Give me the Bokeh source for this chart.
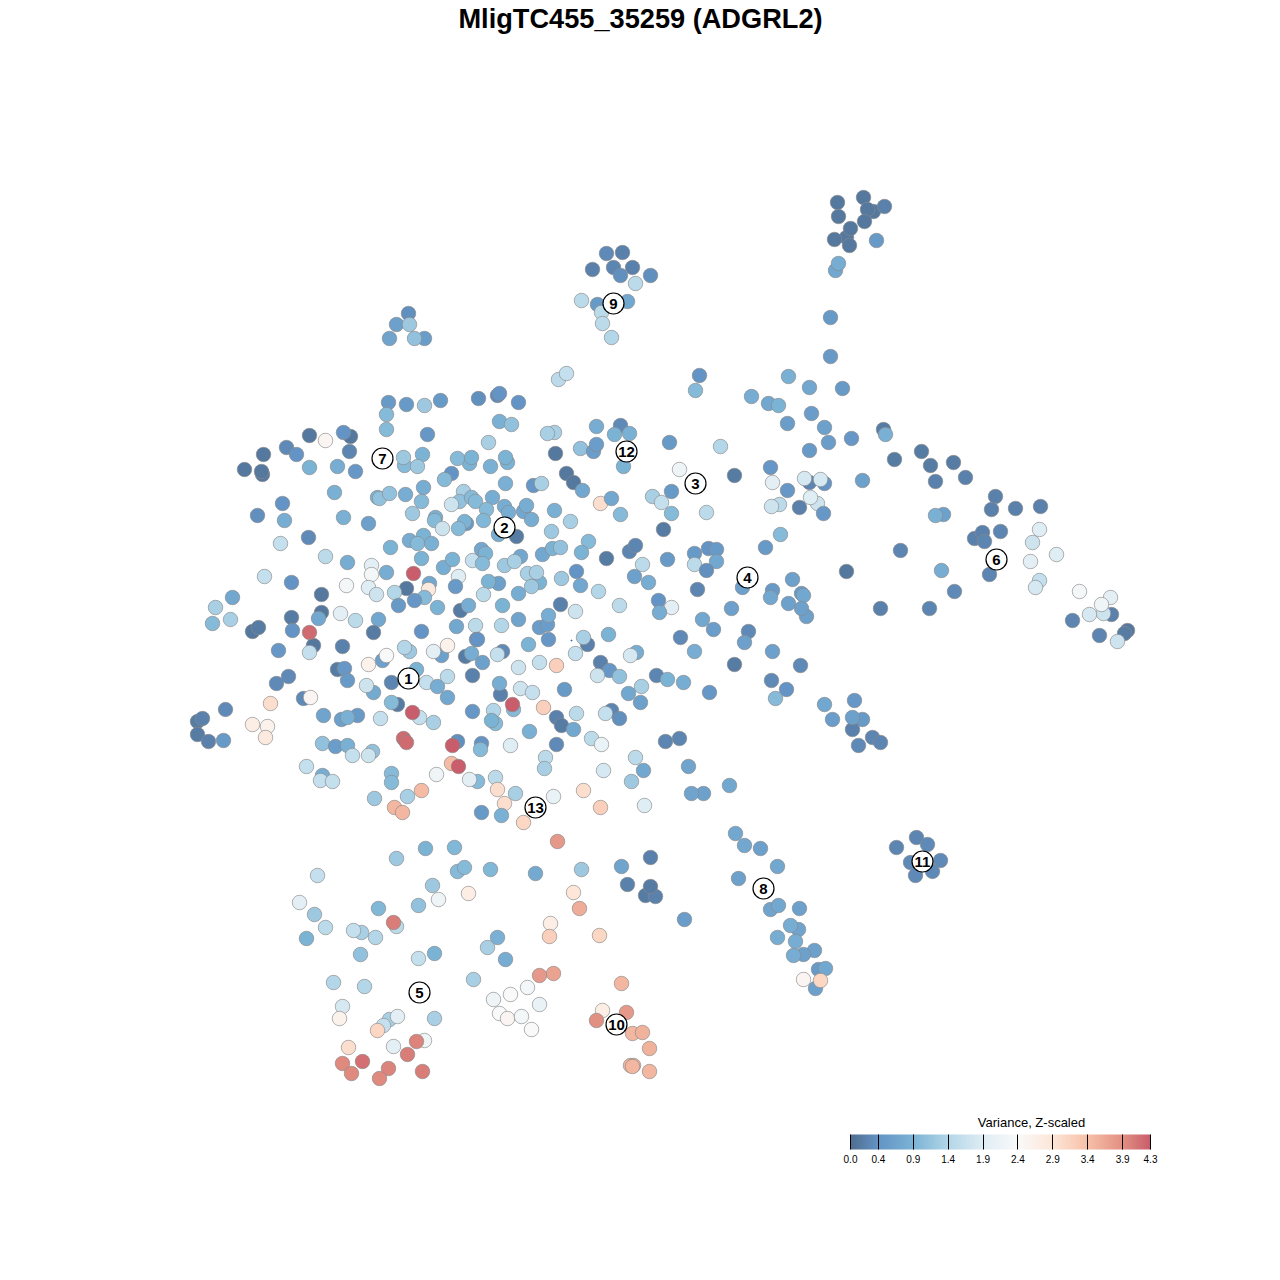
import numpy as np
from bokeh.plotting import figure
from bokeh.models import ColumnDataSource, LinearColorMapper, ColorBar, FixedTicker, Label
from bokeh.core.properties import value
from bokeh.embed import file_html
from bokeh.resources import INLINE

chart_title = "MligTC455_35259 (ADGRL2)"
legend_title = "Variance, Z-scaled"
legend_ticks = [0.0, 0.4, 0.9, 1.4, 1.9, 2.4, 2.9, 3.4, 3.9, 4.3]
rdbu = ["#053061", "#2166AC", "#4393C3", "#92C5DE", "#D1E5F0", "#F7F7F7", "#FDDBC7", "#F4A582", "#D6604D", "#B2182B"]

xa = [388,406,424,440,478,386,386,427,309,325,350,343,349,286,296,263,244,262,261,309,337,355,404,403,422,417,469,457,471,451,444]
ya = [402,404,405,400,398,414,429,434,435,440,436,432,451,447,454,454,469,474,471,467,466,471,465,457,454,466,463,458,457,473,479]
va = [.5,.5,1.2,.5,.35,1,1,.45,.1,2.5,.1,.4,.25,.3,.4,.1,.1,.1,.1,.9,.8,.45,1,1.2,.9,1.2,.9,1,.9,.4,1]

xb = [334,377,379,389,405,423,421,463,459,451,471,475,282,257,284,343,368,412,435,434,442,466,464,458,308,280,325,347,390,409,423,417,431,421,443,452,472]
yb = [492,497,498,493,494,487,501,491,501,504,497,501,503,515,520,517,523,513,517,520,528,523,521,528,537,543,556,562,547,540,535,543,543,558,567,559,560]
vb = [.85,.9,1.1,1.1,.8,.8,1,1.3,1.1,1.7,1,1,.4,.35,.8,.85,.6,1.2,.85,1,1.7,.5,.9,1,.3,1.6,1.5,.8,.9,.8,.9,1,.85,.9,.8,.9,1.6]

xc = [371,371,386,264,291,413,429,406,428,458,455,346,368,376,394,321,424,414,398,437,232,215,230,212,321,318,340,355,378,291,252,258,292,373,421,456,460,468,475,476,313,309,309,342,278,409,404,441,433,447,465,471,382,386,368,337,344,347,288,276,416,391,426,437,373,366]
yc = [565,574,572,576,582,573,583,588,589,576,586,585,587,594,592,594,597,600,605,607,597,607,619,623,612,618,613,620,619,617,631,627,630,632,631,626,610,605,625,639,645,652,632,646,650,651,647,655,651,645,656,653,660,655,664,669,668,680,676,683,669,682,682,686,692,685]
vc = [2,2.3,.8,1.6,.4,4.3,.7,.1,2.8,1.9,.5,2.3,1.9,1.7,1.4,.1,1,.45,.5,.9,.7,1.3,1.3,1,.1,.7,2,1.5,.7,.15,.1,.15,.4,.15,.4,.7,.15,.8,1.5,.4,.1,1.6,4.2,.2,.45,1.2,1.4,.6,2,2.6,.15,.8,.6,2.4,2.6,.15,.45,.5,.3,.3,.9,.25,1.6,.8,.75,1.7]

xd = [497,499,518,499,511,488,554,547,596,620,614,629,580,593,596,555,623,669,720,679,734,490,507,505,505,533,541,566,573,582,600,611,620,652,661,671,671,706,663]
yd = [395,393,402,421,424,442,432,433,426,425,434,433,448,451,444,453,466,442,446,469,475,466,462,457,483,485,483,473,482,490,503,498,514,496,502,491,513,512,529]
vd = [.3,.4,.4,.85,1.1,1.3,1.3,1.3,.8,.3,.9,.85,1.1,.55,.55,.1,.9,.5,1.4,2.2,.15,.85,.9,.9,.85,.45,1.3,.1,.1,.7,3,.7,1,1.3,1.6,.5,1,1.5,.15]

xe = [492,486,504,508,523,526,531,554,570,551,483,498,516,588,581,542,552,560,520,481,485,482,504,514,606,629,635,642,667,694,708,716,716,694,706,527,539,536,531,561,576,580,598,634,648,697,498,488,483,518,560,575,619,658,671,659,731,502]
ye = [497,509,506,512,511,505,519,510,521,531,520,534,536,541,552,554,548,547,556,549,553,563,565,561,558,551,545,564,559,553,548,549,561,564,570,573,582,572,586,578,571,585,591,576,582,589,583,581,594,593,604,611,605,600,607,612,608,605]
ve = [.8,1,.8,.8,.7,.8,.8,.85,1.3,1.2,.95,.8,.15,1,.9,.7,.9,1.1,.7,.7,.9,1,1.2,1.3,.15,.25,.25,1.5,.5,.5,.4,.5,.7,1.5,.35,1.3,.9,1.3,1.2,1.2,.4,.7,1.4,.6,.8,.25,.6,.9,1.5,.8,.2,1.7,1.5,.4,2,.8,.6,.9]

xf = [518,501,702,713,539,547,548,477,548,528,587,583,608,680,694,575,636,630,600,609,556,539,518,502,497,482,472,447,734,597,619,656,667,683,641,628,640,709,564,500,499,520,532]
yf = [619,625,619,629,627,624,615,639,639,644,644,637,634,637,651,653,652,655,662,670,665,662,667,651,654,662,675,676,664,675,676,675,679,682,686,693,702,692,689,694,683,688,692]
vf = [.65,1.4,.7,.55,.55,.55,.8,.4,.45,.9,.2,1.3,.9,.3,.8,1.6,.8,1.8,.2,.45,3.2,1.6,1.7,.3,1.6,.6,.2,1.5,.15,1.7,1.1,.25,.9,.8,1.3,.7,.6,.45,.5,.2,.8,1.7,1.6]

xg = [472,513,512,493,543,576,556,561,573,611,605,619,495,491,447,529,591,601,556,665,679,510,481,480,457,452,545,544,635,643,603,631,688,451,458,477,469,495,497,515,504,553,583,600,644,703,691,729,481,501,523,557,650]
yg = [711,709,704,710,707,713,717,725,729,710,713,718,723,720,697,731,738,744,744,741,738,745,743,749,741,745,757,768,757,770,770,781,766,763,766,781,779,777,789,793,803,796,790,807,805,793,793,785,812,815,822,841,857]
vg = [.45,1,4.3,1.4,3.2,1.5,.2,.15,.7,.25,1.6,.35,1,.9,.7,.85,1.5,2.1,.3,.25,.25,1.9,.4,1,.35,4.3,1.5,1.3,1.5,.7,1.8,1.2,.65,3.45,4.3,1,2,1.5,3,1.3,3,2.1,3,3.2,1.9,.6,.65,.7,.5,.85,3.1,3.8,.2]

xh = [225,197,202,197,208,223,270,252,267,265,303,310,323,341,357,347,380,397,391,419,412,433,322,335,347,352,372,368,306,322,320,332,403,406,391,391,436,421,407,374,394,402]
yh = [709,721,718,734,741,740,703,724,726,737,698,697,715,719,715,717,718,704,702,717,712,722,743,746,745,755,751,755,766,775,780,781,738,742,773,782,774,790,796,798,807,812]
vh = [.3,.15,.2,.15,.2,.5,3,2.7,2.6,2.8,.3,2.5,.65,.6,.5,.85,1.6,.15,1,1.6,4.3,1.3,1.1,.55,.85,1.6,1.1,1.7,1.6,.8,1.6,1.6,4.2,4.2,1,1,2.2,3.45,1.3,1.2,3.5,3.5]

xi = [425,454,396,317,457,464,490,535,581,299,314,325,306,378,432,438,468,418,396,393,361,353,375,360,418,434,333,364,342,339,434,389,383,397,377,348,393,424,416,407,362,342,351,388,379,422]
yi = [848,847,858,875,871,867,869,873,869,902,914,927,938,908,885,899,893,905,926,922,932,930,937,954,958,953,982,986,1006,1018,1018,1019,1025,1016,1030,1047,1046,1040,1041,1054,1061,1063,1073,1068,1078,1071]
vi = [.9,.95,1.2,1.6,1,1,.95,.75,1.2,2,1.2,1.5,.9,.95,1.2,2.2,2.7,1.1,1.5,4.05,1.3,1.6,1.4,1.1,1.6,.9,1.4,1.4,1.8,2.6,1.3,1.3,1.6,2,3.1,3,2,2.2,4,4.05,4.15,3.95,3.95,4,3.95,4.05]

xj = [621,627,645,655,650,684,573,579,550,549,599,497,487,505,473,553,539,527,510,493,539,499,507,521,531,621,602,626,596,632,642,649,630,633,632,649]
yj = [866,884,895,896,886,919,892,908,923,936,935,937,947,959,979,973,975,987,994,999,1004,1013,1018,1016,1029,983,1010,1012,1020,1033,1032,1048,1065,1065,1066,1071]
vj = [.65,.2,.15,.2,.15,.55,2.9,3.6,2.7,3.2,3.1,.85,1.3,.8,1.3,3.7,3.8,2.3,2.4,2.2,2.1,2.4,2.5,2.3,2.4,3.5,2.7,3.8,3.9,3.5,3.55,3.55,3.5,3.5,3.5,3.5]

xk = [837,863,838,873,867,884,864,846,850,834,849,876,835,838,830,830,606,622,592,613,632,620,650,635,581,597,627,601,602,611,408,396,409,389,424,414,558,566,699,695,788,809,842,751,768,778]
yk = [202,197,216,211,209,206,221,237,228,239,245,240,270,263,317,356,253,252,269,267,267,275,275,283,300,304,301,312,323,337,313,324,324,338,338,338,379,373,375,390,376,387,388,396,403,405]
vk = [.1,.1,.1,.1,.1,.2,.1,.1,.1,.1,.1,.5,.7,.8,.5,.5,.3,.2,.2,.25,.2,.35,.35,1.5,1.5,.5,.7,1.5,1.5,1.4,.35,.6,1.2,.65,.55,1.1,1.5,1.6,.4,1,.85,.7,.5,.8,.7,.9]

xl = [811,787,824,828,851,809,883,885,894,921,930,953,935,965,770,772,787,809,824,804,820,862,799,817,810,823,779,771,943,935,995,991,1015,1040,1000,974,982,984,1039,1032,1056,1030,989,780,765,900,846,941,1039,1035,954,929,880,1079,1111,1103,1110,1101,1089,1072,1099,1127,1124,1117]
yl = [413,423,427,442,438,450,429,434,459,451,465,462,481,477,467,482,490,482,483,478,479,480,507,503,497,513,504,506,514,515,496,509,508,506,531,538,532,541,529,542,554,561,574,534,547,550,571,570,580,587,591,608,608,591,614,613,597,604,614,620,635,630,633,641]
vl = [.55,.55,.6,.55,.45,.5,.15,.85,.15,.15,.15,.15,.2,.2,.45,2,.45,.25,.4,1.8,1.8,.6,.2,1.7,1.9,.45,1.5,1.7,.6,.85,.2,.2,.2,.2,.25,.2,.2,.25,1.9,1.7,1.9,2,.25,1,.5,.25,.1,.8,1.6,1.8,.3,.25,.2,2.3,.2,1.7,2,2.2,1.8,.25,.25,.1,.15,1.7]

xm = [742,792,772,770,788,801,803,806,801,748,744,772,800,771,786,775,824,854,832,862,852,852,872,880,858,735,744,760,777,738,799,770,778,798,790,777,795,814,803,793,818,825,803,815,820,896,916,927,910,940,932,915]
ym = [587,579,590,597,603,593,595,616,608,631,642,651,665,680,689,698,704,700,719,719,729,717,737,742,745,833,845,848,866,878,908,909,905,929,925,937,941,950,954,955,969,968,979,988,980,847,837,844,862,860,871,875]
vm = [.6,.6,.5,.7,.6,.5,.7,.6,.6,.3,.6,.6,.3,.3,.4,1,.7,.45,.55,.5,.2,.6,.25,.25,.3,.7,.7,.6,.7,.6,.6,.65,.7,.65,.8,.8,.8,.6,.6,.8,.5,.7,2.5,.6,3.1,.25,.25,.3,.3,.3,.3,.3]

label_text = ["1","2","3","4","5","6","7","8","9","10","11","12","13"]
label_x = [408,504,695,747,419,996,382,763,613,616,922,626,535]
label_y = [678,527,483,577,992,559,458,888,303,1024,861,451,807]

xs = xa+xb+xc+xd+xe+xf+xg+xh+xi+xj+xk+xl+xm
ys = ya+yb+yc+yd+ye+yf+yg+yh+yi+yj+yk+yl+ym
vs = va+vb+vc+vd+ve+vf+vg+vh+vi+vj+vk+vl+vm
assert len(xs) == len(ys) == len(vs)

rgb = np.array([[int(c[i:i+2], 16) for i in (1, 3, 5)] for c in rdbu], dtype=float) * 0.7 + 255 * 0.3
grid = np.linspace(0, 4.3, 431)
palette = ["#%02x%02x%02x" % tuple(int(round(np.interp(g, legend_ticks, rgb[:, k]))) for k in range(3)) for g in grid]
mapper = LinearColorMapper(palette=palette, low=0, high=4.3)

p = figure(width=1264, height=1264, x_range=(0, 1264), y_range=(1264, 0),
           output_backend="svg", toolbar_location=None,
           x_axis_location=None, y_axis_location=None, min_border=0)
p.grid.visible = False
p.outline_line_color = None

src = ColumnDataSource(dict(x=xs, y=ys, v=vs))
p.scatter("x", "y", source=src, size=14.5, marker="circle",
          fill_color={"field": "v", "transform": mapper}, fill_alpha=1,
          line_color="#888888", line_alpha=0.65, line_width=1)

p.scatter([571], [640], size=1, color="#2166AC")

lab = ColumnDataSource(dict(x=label_x, y=label_y, t=label_text))
p.scatter("x", "y", source=lab, size=21, marker="circle", fill_color="white",
          line_color="black", line_width=1.2)
p.text("x", "y", text="t", source=lab, text_align="center", text_baseline="middle",
       text_font=value("Liberation Sans"), text_font_style="bold", text_font_size="15px", text_color="black")

p.add_layout(Label(x=640, y=18, text=chart_title, text_align="center", text_baseline="middle",
                   text_font="Liberation Sans", text_font_style="bold", text_font_size="27.2px", text_color="black"))
p.add_layout(Label(x=1031, y=1122, text=legend_title, text_align="center", text_baseline="middle",
                   text_font="Liberation Sans", text_font_size="13px", text_color="black"))

bar = ColorBar(color_mapper=mapper, orientation="horizontal", width=300, height=15,
               location=(850, 99), padding=0, margin=0,
               ticker=FixedTicker(ticks=legend_ticks),
               major_tick_in=15, major_tick_out=0, minor_tick_line_color=None,
               major_tick_line_color="black", major_tick_line_width=1,
               bar_line_color=None, border_line_color=None, background_fill_color=None,
               label_standoff=5, major_label_text_font="Liberation Sans", major_label_text_font_size="10px",
               major_label_text_color="black",
               major_label_overrides={t: f"{t:.1f}" for t in legend_ticks})
p.add_layout(bar)

open("out.html", "w").write(file_html(p, INLINE))
